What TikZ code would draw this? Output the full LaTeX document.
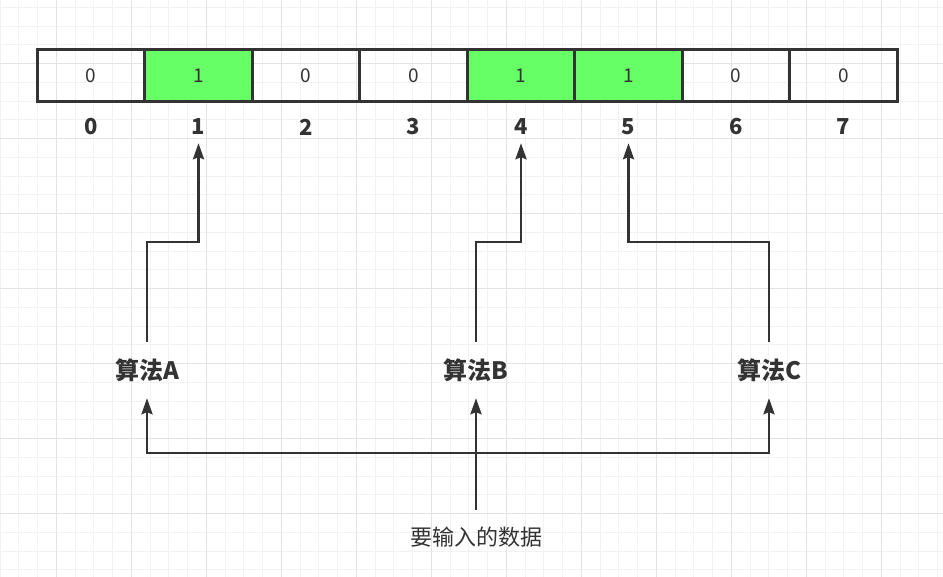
\documentclass[tikz,border=0pt]{standalone}
\usepackage{fontspec}
\setmainfont{Noto Sans CJK SC}
\usepackage{tikz}
\usetikzlibrary{arrows.meta,positioning}
\definecolor{ink}{HTML}{333333}
\definecolor{bitgreen}{HTML}{66FF66}
\definecolor{gridminor}{HTML}{F2F2F2}
\definecolor{gridmajor}{HTML}{E3E3E3}
\tikzset{
  cell/.style={draw=ink,line width=3pt,rectangle,minimum width=107.5pt,minimum height=52pt,inner sep=0pt,text=ink,font=\fontsize{19pt}{21pt}\selectfont},
  setcell/.style={cell,fill=bitgreen},
  idx/.style={minimum height=32pt,inner sep=0pt,text=ink,font=\fontsize{22pt}{24pt}\selectfont\bfseries},
  algo/.style={minimum height=56pt,inner sep=0pt,text=ink,font=\fontsize{24pt}{26pt}\selectfont\bfseries},
  arr/.style={draw=ink,line width=2.5pt,-{Stealth[length=16pt,width=11pt,inset=2pt]}}
}
\begin{document}
\begin{tikzpicture}[x=1pt,y=1pt,node distance=107.5pt]
\useasboundingbox (0,0) rectangle (943,-577);
% background grid
\begin{scope}[shift={(0,-7.3)}]
\draw[gridminor,line width=1pt] (0,-570) grid[xstep=18.75,ystep=18.75] (943,7.3);
\end{scope}
\foreach \gx in {56.7,131.7,...,943} \draw[gridmajor,line width=1pt] (\gx,0) -- (\gx,-577);
\foreach \gy in {63.3,138.3,...,577} \draw[gridmajor,line width=1pt] (0,-\gy) -- (943,-\gy);

% bit array
\node[cell] (c0) at (91,-76) {0};
\node[setcell,right of=c0] (c1) {1};
\node[cell,right of=c1] (c2) {0};
\node[cell,right of=c2] (c3) {0};
\node[setcell,right of=c3] (c4) {1};
\node[setcell,right of=c4] (c5) {1};
\node[cell,right of=c5] (c6) {0};
\node[cell,right of=c6] (c7) {0};

% indices
\node[idx] (i0) at (91,-127) {0};
\node[idx,right of=i0] (i1) {1};
\node[idx,right of=i1] (i2) {2};
\node[idx,right of=i2] (i3) {3};
\node[idx,right of=i3] (i4) {4};
\node[idx,right of=i4] (i5) {5};
\node[idx,right of=i5] (i6) {6};
\node[idx,right of=i6] (i7) {7};

% hash functions
\node[algo] (algA) at (147,-370) {算法A};
\node[algo] (algB) at (476,-370) {算法B};
\node[algo] (algC) at (769,-370) {算法C};
\node[minimum height=54pt,inner sep=0pt,text=ink,font=\fontsize{22pt}{24pt}\selectfont] (data) at (476,-537) {要输入的数据};

\draw[arr] (algA.north) -- ++(0,100) -| (i1.south);
\draw[arr] (algB.north) -- ++(0,100) -| (i4.south);
\draw[arr] (algC.north) -- ++(0,100) -| (i5.south);

\draw[arr] (data.north) -- (algB.south);
\draw[arr] (data.north) -- ++(0,57) -| (algA.south);
\draw[arr] (data.north) -- ++(0,57) -| (algC.south);
\end{tikzpicture}
\end{document}
